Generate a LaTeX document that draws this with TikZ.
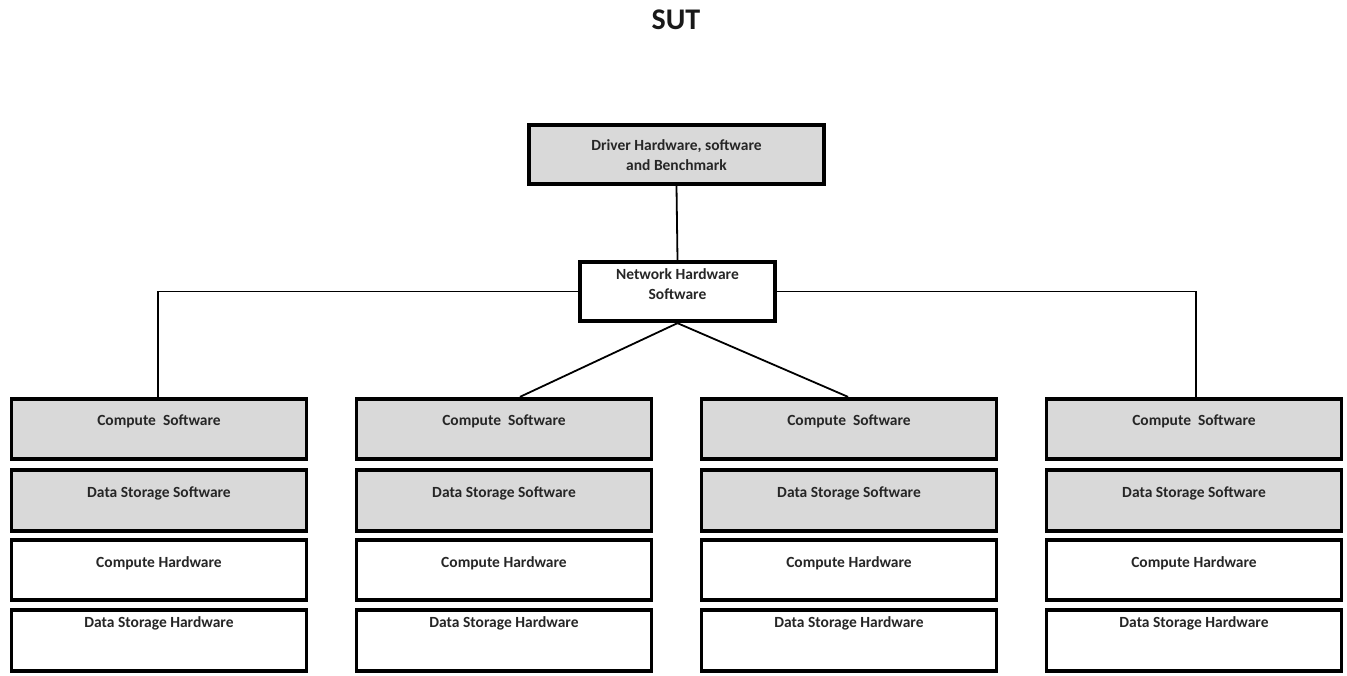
\documentclass[tikz,border=0pt]{standalone}
\usepackage{fontspec}
\setmainfont{Carlito}
\usetikzlibrary{calc}
\definecolor{boxgray}{RGB}{217,217,217}
\tikzset{
  box/.style={draw=black, line width=3.8pt, rectangle, inner sep=0pt, minimum width=295pt},
  graybox/.style={box, fill=boxgray},
  whitebox/.style={box, fill=white},
  txt/.style={font=\fontsize{15.5}{19.5}\selectfont\bfseries, align=center, text=black!85},
  conn/.style={draw=black, line width=1.8pt},
}
\begin{document}
\begin{tikzpicture}[x=1pt,y=-1pt]
\useasboundingbox (0,0) rectangle (1347,675);
\node[font=\fontsize{30}{34}\selectfont\bfseries, text=black!90] (title) at (676,20) {SUT};

\node[graybox, minimum width=295.5pt, minimum height=59.5pt] (drv) at (676.5,154.5) {};
\node[txt] (drvt) at (676.5,155) {Driver Hardware, software\\and Benchmark};

\node[whitebox, minimum width=195.5pt, minimum height=59.5pt] (net) at (677.5,291.5) {};
\node[txt] (nett) at (677.5,284) {Network Hardware\\Software};

\foreach \i/\cx in {1/159,2/504,3/849,4/1194}{
  \node[graybox, minimum height=60.5pt] (cs\i) at (\cx,429) {};
  \node[txt] (cst\i) at (\cx,421) {Compute\ \ Software};
  \node[graybox, minimum height=61.5pt] (dss\i) at (\cx,500.5) {};
  \node[txt] (dsst\i) at (\cx,493) {Data Storage Software};
  \node[whitebox, minimum height=60.5pt] (ch\i) at (\cx,570) {};
  \node[txt] (cht\i) at (\cx,563) {Compute Hardware};
  \node[whitebox, minimum height=61.5pt] (dsh\i) at (\cx,640.5) {};
  \node[txt] (dsht\i) at (\cx,623) {Data Storage Hardware};
}

\draw[conn] (drv.south) -- (net.north);
\draw[conn] (net.west) -| ([xshift=-1pt]cs1.north);
\draw[conn] (net.east) -| ([xshift=2pt]cs4.north);
\draw[conn] (net.south) -- ([xshift=16pt]cs2.north);
\draw[conn] (net.south) -- ([xshift=-1pt]cs3.north);
\end{tikzpicture}
\end{document}
